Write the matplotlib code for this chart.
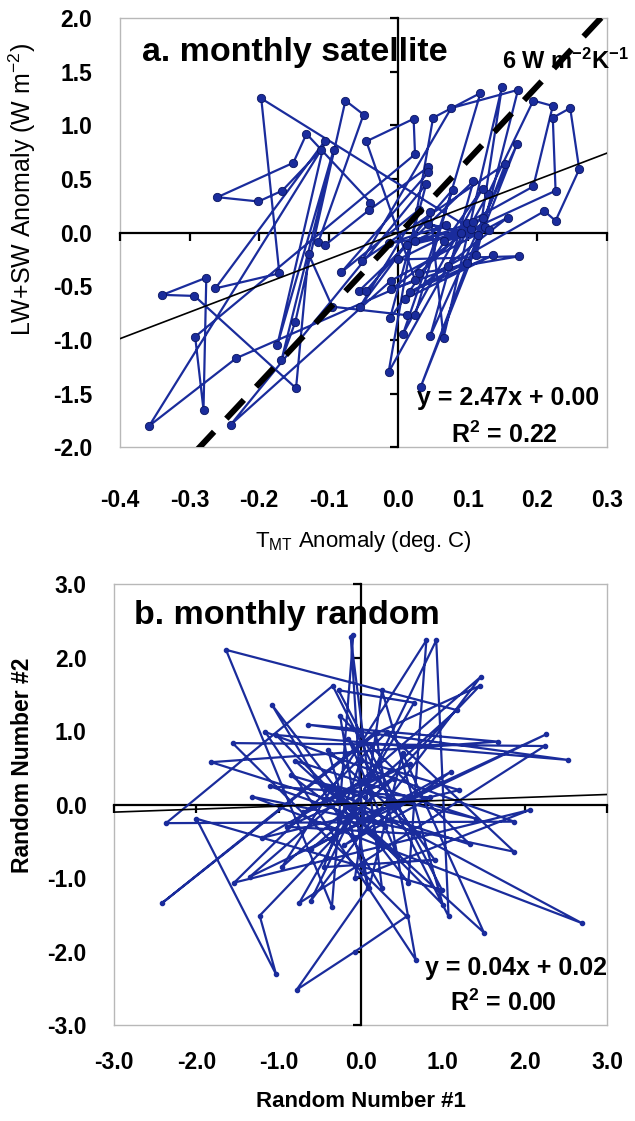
import matplotlib
matplotlib.use("Agg")
import matplotlib.pyplot as plt

plt.rcParams['font.family'] = ['Liberation Sans', 'DejaVu Sans']
plt.rcParams['mathtext.default'] = 'regular'
plt.rcParams['axes.unicode_minus'] = False

# panel a: monthly satellite (T_MT anomaly, LW+SW anomaly), in time order
sat_t = [-0.040, -0.132, -0.151, -0.260, -0.201, -0.167, -0.111, -0.358, -0.233, 0.024,
         -0.046, 0.022, 0.024, -0.292, -0.280, -0.276, -0.339, -0.293, -0.147, -0.129,
         -0.095, 0.013, 0.024, 0.118, 0.050, -0.014, 0.129, 0.194, 0.222, 0.194,
         0.099, 0.072, 0.210, 0.226, 0.260, 0.247, 0.222, 0.226, 0.105, -0.197,
         -0.171, -0.263, -0.106, -0.174, -0.093, -0.168, -0.148, -0.076, -0.050, -0.115,
         -0.106, -0.042, 0.043, 0.043, -0.082, 0.029, -0.055, 0.046, 0.065, 0.149,
         0.112, 0.172, 0.076, -0.052, 0.154, 0.032, 0.171, 0.046, 0.108, -0.056,
         -0.046, 0.078, 0.007, 0.121, -0.012, 0.040, -0.241, -0.011, 0.157, 0.009,
         0.136, 0.017, 0.098, -0.010, 0.122, 0.000, 0.174, 0.030, 0.108, 0.013,
         0.125, -0.013, 0.068, 0.024, 0.115, 0.042, 0.090, 0.065, 0.130]
sat_f = [0.28, 0.92, 0.65, 0.33, 0.29, 0.39, 0.77, -1.80, -1.17, -0.44,
         0.85, 1.06, 0.73, -0.97, -1.65, -0.42, -0.58, -0.59, -1.45, -0.20,
         -0.69, -0.77, -0.77, 1.30, 1.07, -1.30, 0.36, 1.23, 1.18, 0.43,
         0.09, -0.31, 0.20, 0.11, 0.59, 1.16, 1.07, 0.39, 0.03, 1.25,
         -0.38, -0.52, 0.85, -1.05, 0.77, -1.19, -0.83, 1.23, 1.10, -0.09,
         -0.12, 0.21, 0.61, 0.56, -0.37, 0.21, -0.69, 0.19, -0.98, 1.36,
         -0.21, 1.33, 1.16, -0.26, 0.64, -1.44, 0.83, -0.96, 0.48, -0.54,
         -0.54, 0.40, -0.94, 0.41, -0.80, 0.45, -1.79, -0.45, 0.14, -0.62,
         -0.21, -0.55, -0.28, -0.53, 0.14, -0.25, -0.22, -0.38, 0.10, -0.12,
         0.05, -0.10, 0.07, -0.08, -0.02, 0.08, 0.00, -0.08, 0.02]

# panel b: two random series, in time order
rnd1 = [-0.09, -0.35, -1.64, 1.17, -0.96, 0.80, 0.58, -1.08, 0.26, -0.12,
        0.02, 2.26, -1.35, 1.46, -0.61, 0.92, 1.07, -0.34, -2.37, 1.87,
        -1.16, 0.67, 0.18, -2.42, 0.20, 1.45, -1.23, -1.03, -2.00, 0.99,
        -0.27, 0.65, -0.75, 2.24, -1.56, 0.56, -0.07, -0.78, 0.09, -0.25,
        1.33, -1.82, 1.67, -0.64, 2.53, -1.03, 1.00, 0.26, -0.07, 2.06,
        -1.54, 0.32, 1.87, -1.32, 2.69, -0.50, 1.41, -0.80, 1.50, 0.51,
        0.10, -0.40, 0.70, -0.90, 0.40, -0.60, 1.10, -0.20, 0.85, -1.10,
        0.30, -0.30, 0.60, -0.70, 0.15, -1.20, 1.20, 0.00, -0.45, 0.90,
        -0.15, 0.45, -0.85, 0.05]
rnd2 = [2.31, -1.39, 2.11, 1.29, -0.85, 2.24, -1.06, 1.36, -1.14, 2.28,
        -0.20, 0.96, -0.98, 1.74, -1.31, 2.24, -1.52, 1.62, -0.25, -0.23,
        0.99, -2.11, 0.99, -1.34, 0.98, 1.62, -1.51, -2.31, -0.19, -1.16,
        1.56, 1.39, -1.34, 0.80, 0.84, -1.52, -2.00, -2.52, -1.13, 1.21,
        -0.54, 0.58, 0.86, 1.09, 0.61, 0.95, -1.36, 1.56, -1.00, -0.07,
        -1.06, 0.99, -0.64, 0.11, -1.61, 0.30, -0.19, 0.60, -1.74, 0.70,
        -1.14, 0.75, -0.40, -0.30, 0.35, -0.60, 0.45, -0.55, 0.10, 0.25,
        -0.30, 0.15, 0.55, -0.10, 0.40, -0.45, 0.20, 0.60, -0.85, -0.75,
        0.90, -0.70, 0.40, 0.10]

# fitted lines and the 6 W m-2 K-1 reference line
fit_a = (2.47, 0.00)
fit_b = (0.04, 0.02)
ref_x = [-0.29, 0.31]
ref_y = [-2.03, 2.13]

blue = '#1a2c9c'
frame_gray = '#b8b8b8'

fig = plt.figure(figsize=(6.35, 11.21), dpi=100)


def make_panel(rect, xlim, ylim, xticks, yticks):
    # outer frame with the tick labels
    base = fig.add_axes(rect)
    base.set_xlim(xlim)
    base.set_ylim(ylim)
    for sp in base.spines.values():
        sp.set_color(frame_gray)
        sp.set_linewidth(1)
    base.set_xticks(xticks)
    base.set_yticks(yticks)
    base.set_xticklabels([f"{v:.1f}" for v in xticks], fontweight='bold', fontsize=16.5)
    base.set_yticklabels([f"{v:.1f}" for v in yticks], fontweight='bold', fontsize=16.5)
    base.tick_params(length=0)
    # axes crossing at zero, drawn on top
    ax = fig.add_axes(rect, sharex=base, sharey=base)
    ax.patch.set_visible(False)
    ax.spines['left'].set_position(('data', 0))
    ax.spines['bottom'].set_position(('data', 0))
    ax.spines['top'].set_visible(False)
    ax.spines['right'].set_visible(False)
    for s in ('left', 'bottom'):
        ax.spines[s].set_linewidth(1.6)
    ax.tick_params(direction='out', length=6, width=1.6,
                   labelleft=False, labelbottom=False)
    return base, ax


# ---- panel a ----
xt_a = [-0.4, -0.3, -0.2, -0.1, 0.0, 0.1, 0.2, 0.3]
yt_a = [-2.0, -1.5, -1.0, -0.5, 0.0, 0.5, 1.0, 1.5, 2.0]
base_a, ax_a = make_panel([0.189, 0.601, 0.767, 0.383], (-0.4, 0.3), (-2, 2), xt_a, yt_a)
base_a.tick_params(axis='x', pad=30)
base_a.tick_params(axis='y', pad=20)

ax_a.plot(sat_t, sat_f, color=blue, lw=1.6, marker='o', ms=6,
          mfc=blue, mec='#0a1560', mew=0.6, zorder=3)
xx = [-0.4, 0.3]
ax_a.plot(xx, [fit_a[0] * v + fit_a[1] for v in xx], color='black', lw=1.2, zorder=4)
ax_a.plot(ref_x, ref_y, color='black', lw=4.3, linestyle=(0, (4.3, 3.0)),
          solid_capstyle='butt', dash_capstyle='butt', zorder=5)
ax_a.set_xlim(-0.4, 0.3)
ax_a.set_ylim(-2, 2)

base_a.set_xlabel("T$_{MT}$ Anomaly (deg. C)", fontsize=16, labelpad=12)
base_a.set_ylabel("LW+SW Anomaly (W m$^{-2}$)", fontsize=18)
base_a.yaxis.set_label_coords(-0.168, 0.6)
base_a.text(0.045, 0.92, "a. monthly satellite", transform=base_a.transAxes,
            fontsize=24.5, fontweight='bold', va='center', ha='left', zorder=6)
base_a.text(1.045, 0.9, "6 W m$^{-2}$K$^{-1}$", transform=base_a.transAxes,
            fontsize=17, fontweight='bold', va='center', ha='right', zorder=6)
base_a.text(0.983, 0.115, f"y = {fit_a[0]:.2f}x + {fit_a[1]:.2f}", transform=base_a.transAxes,
            fontsize=18, fontweight='bold', ha='right', va='center', zorder=6)
base_a.text(0.79, 0.03, "R$^{2}$ = 0.22", transform=base_a.transAxes,
            fontsize=18, fontweight='bold', ha='center', va='center', zorder=6)

# ---- panel b ----
xt_b = [-3.0, -2.0, -1.0, 0.0, 1.0, 2.0, 3.0]
yt_b = [-3.0, -2.0, -1.0, 0.0, 1.0, 2.0, 3.0]
base_b, ax_b = make_panel([0.180, 0.0856, 0.776, 0.393], (-3, 3), (-3, 3), xt_b, yt_b)
base_b.tick_params(axis='x', pad=19)
base_b.tick_params(axis='y', pad=20)

ax_b.plot(rnd1, rnd2, color=blue, lw=1.6, marker='o', ms=3, mfc=blue, mec=blue, zorder=3)
xx = [-3, 3]
ax_b.plot(xx, [fit_b[0] * v + fit_b[1] for v in xx], color='black', lw=1.2, zorder=4)
ax_b.set_xlim(-3, 3)
ax_b.set_ylim(-3, 3)

base_b.set_xlabel("Random Number #1", fontsize=16, fontweight='bold', labelpad=12)
base_b.set_ylabel("Random Number #2", fontsize=16.5, fontweight='bold')
base_b.yaxis.set_label_coords(-0.162, 0.59)
base_b.text(0.04, 0.93, "b. monthly random", transform=base_b.transAxes,
            fontsize=24.5, fontweight='bold', va='center', ha='left', zorder=6)
base_b.text(1.0, 0.13, f"y = {fit_b[0]:.2f}x + {fit_b[1]:.2f}", transform=base_b.transAxes,
            fontsize=18, fontweight='bold', ha='right', va='center', zorder=6)
base_b.text(0.79, 0.05, "R$^{2}$ = 0.00", transform=base_b.transAxes,
            fontsize=18, fontweight='bold', ha='center', va='center', zorder=6)

plt.savefig("out.png", dpi=100)
